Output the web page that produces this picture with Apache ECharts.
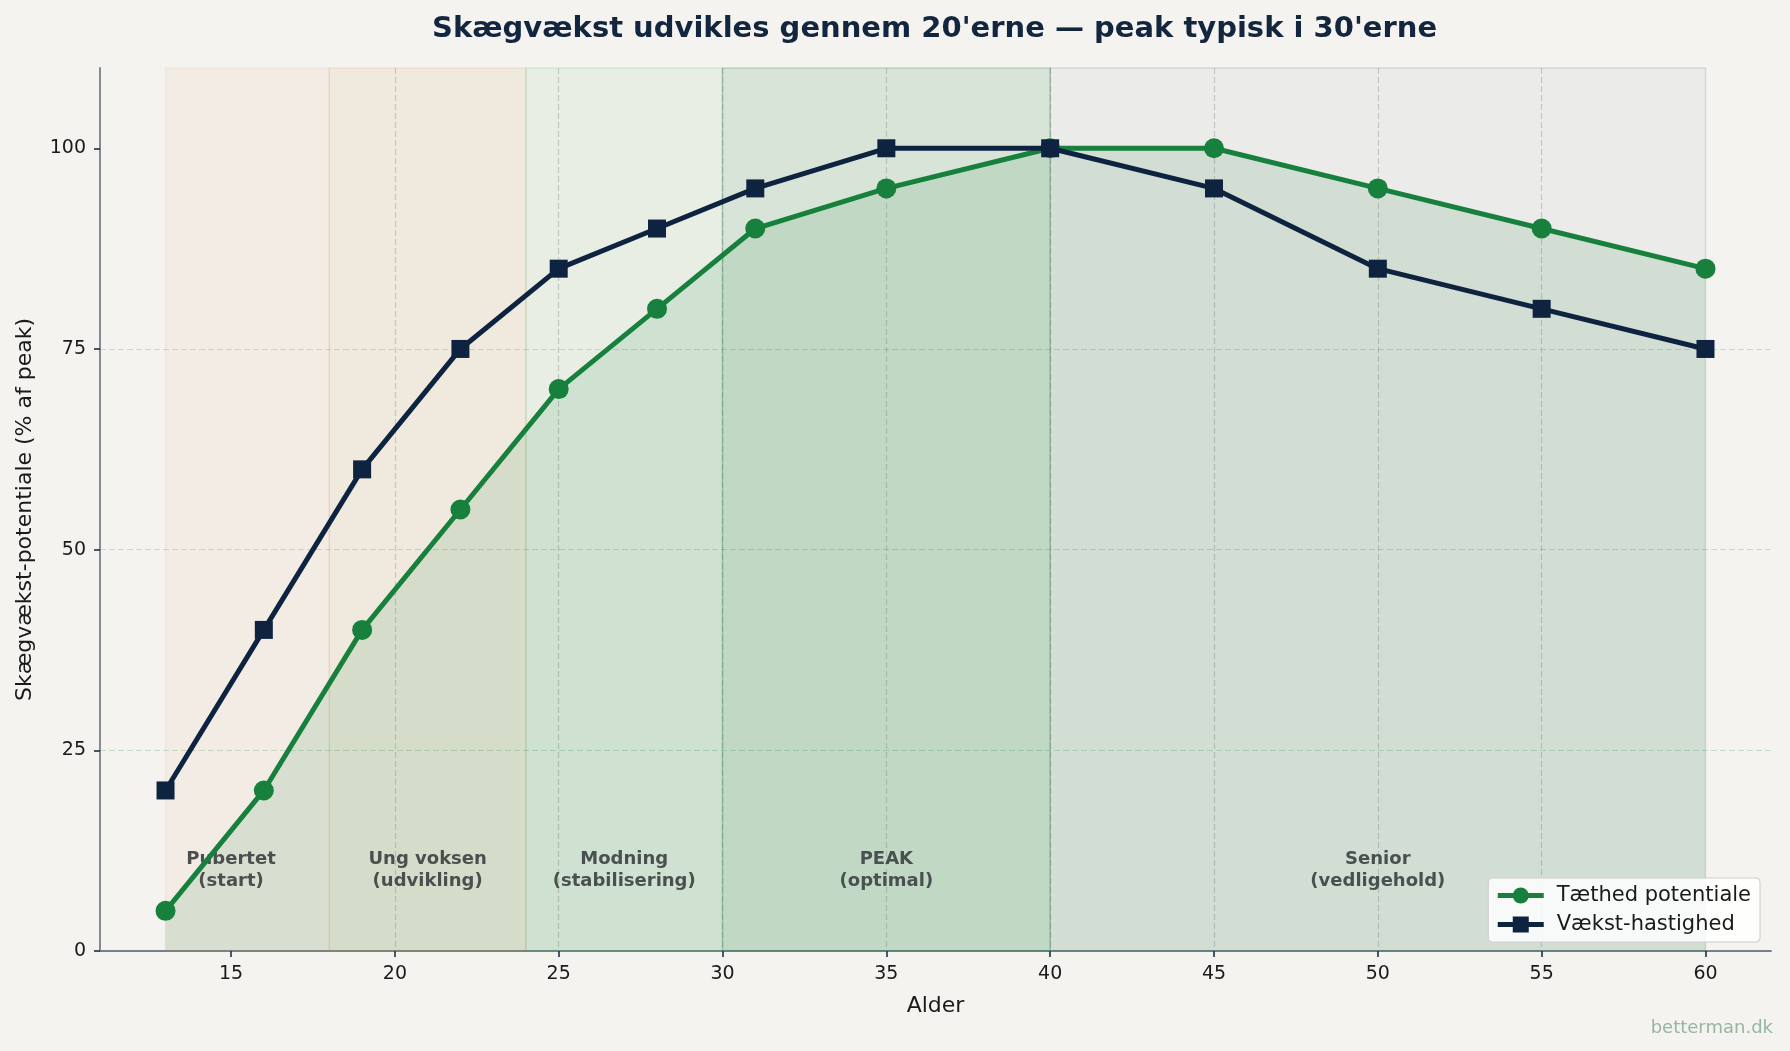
<!DOCTYPE html>
<html>
<head>
<meta charset="utf-8">
<script src="https://cdn.jsdelivr.net/npm/echarts@6/dist/echarts.min.js"></script>
<style>
html,body{margin:0;padding:0;background:#F4F3EF;}
#chart{width:1790px;height:1051px;}
</style>
</head>
<body>
<div id="chart"></div>
<script>
// ---- data ----
const ages = [13, 16, 19, 22, 25, 28, 31, 35, 40, 45, 50, 55, 60];
const densityPotential = [5, 20, 40, 55, 70, 80, 90, 95, 100, 100, 95, 90, 85];
const growthRate = [20, 40, 60, 75, 85, 90, 95, 100, 100, 95, 85, 80, 75];
const xTickValues = [15, 20, 25, 30, 35, 40, 45, 50, 55, 60];
const yTickValues = [0, 25, 50, 75, 100];
const phaseNames = ['Pubertet\n(start)', 'Ung voksen\n(udvikling)', 'Modning\n(stabilisering)', 'PEAK\n(optimal)', 'Senior\n(vedligehold)'];
const phaseStart = [13, 18, 24, 30, 40];
const phaseEnd = [18, 24, 30, 40, 60];
const phaseLabelAge = [15, 21, 27, 35, 50];
const phaseLabelLevel = 10;
const seriesNames = ['Tæthed potentiale', 'Vækst-hastighed'];
const titleText = "Skægvækst udvikles gennem 20'erne — peak typisk i 30'erne";

// ---- styles ----
const FONT = 'DejaVu Sans';
const GREEN = '#17803D';
const NAVY = '#0D2340';
const bandFill = ['rgba(230,150,110,0.08)', 'rgba(210,150,70,0.10)', 'rgba(100,180,120,0.085)', 'rgba(60,150,90,0.15)', 'rgba(140,140,170,0.08)'];
const bandEdge = ['rgba(230,150,110,0.10)', 'rgba(210,150,70,0.16)', 'rgba(100,180,120,0.18)', 'rgba(60,130,90,0.25)', 'rgba(60,130,90,0.18)'];

const bands = phaseStart.map((s, i) => [
  { xAxis: s, itemStyle: { color: bandFill[i], borderColor: bandEdge[i], borderWidth: 1.5 } },
  { xAxis: phaseEnd[i] }
]);
const phaseLabels = phaseNames.map((n, i) => ({ name: n, value: [phaseLabelAge[i], phaseLabelLevel] }));
const densityPoints = ages.map((a, i) => [a, densityPotential[i]]);
const growthPoints = ages.map((a, i) => [a, growthRate[i]]);

const chart = echarts.init(document.getElementById('chart'), null, { renderer: 'canvas' });
chart.setOption({
  backgroundColor: '#F4F3EF',
  animation: false,
  textStyle: { fontFamily: FONT },
  title: {
    text: titleText,
    left: 427,
    top: 10,
    textStyle: { fontFamily: FONT, fontSize: 29, fontWeight: 'bold', color: '#13263F' }
  },
  grid: { left: 100, right: 19, top: 68, bottom: 100, containLabel: false },
  legend: {
    data: seriesNames,
    orient: 'vertical',
    right: 30,
    bottom: 109,
    itemWidth: 46,
    itemHeight: 20,
    itemGap: 8,
    padding: [7, 9, 7, 7],
    backgroundColor: 'rgba(255,255,255,0.85)',
    borderColor: '#cccccc',
    borderWidth: 1,
    borderRadius: 4,
    lineStyle: { width: 5 },
    textStyle: { fontFamily: FONT, fontSize: 21, color: '#1a1a1a', padding: [0, 0, 0, 8] }
  },
  xAxis: {
    type: 'value',
    min: 11,
    max: 62,
    name: 'Alder',
    nameLocation: 'middle',
    nameGap: 44,
    nameTextStyle: { fontFamily: FONT, fontSize: 22, color: '#1a1a1a' },
    axisLine: { show: true, lineStyle: { color: '#778089', width: 1.8 } },
    axisTick: { show: true, length: 6, customValues: xTickValues, lineStyle: { color: NAVY, width: 1.5 } },
    axisLabel: { customValues: xTickValues, margin: 14, fontFamily: FONT, fontSize: 19, color: '#1a1a1a' },
    splitLine: { show: true, showMinLine: false, showMaxLine: false, lineStyle: { color: 'rgba(0,0,0,0.17)', type: [6, 3], width: 1.2 } }
  },
  yAxis: {
    type: 'value',
    min: 0,
    max: 110,
    name: 'Skægvækst-potentiale (% af peak)',
    nameLocation: 'middle',
    nameGap: 64,
    nameTextStyle: { fontFamily: FONT, fontSize: 22, color: '#1a1a1a' },
    axisLine: { show: true, lineStyle: { color: '#778089', width: 1.8 } },
    axisTick: { show: true, length: 6, customValues: yTickValues, lineStyle: { color: NAVY, width: 1.5 } },
    axisLabel: { customValues: yTickValues, margin: 14, fontFamily: FONT, fontSize: 19, color: '#1a1a1a' },
    splitLine: { show: true, showMinLine: false, showMaxLine: false, lineStyle: { color: 'rgba(26,127,60,0.22)', type: [6, 3], width: 1.2 } }
  },
  graphic: [{
    type: 'text',
    right: 17,
    bottom: 14,
    style: { text: 'betterman.dk', fontFamily: FONT, fontSize: 18, fill: '#98B5A0' }
  }],
  series: [
    {
      name: 'bands',
      type: 'line',
      z: 1,
      silent: true,
      data: [],
      markArea: { silent: true, data: bands }
    },
    {
      name: 'densityFill',
      type: 'line',
      z: 2,
      silent: true,
      data: densityPoints,
      symbol: 'none',
      lineStyle: { width: 0, opacity: 0 },
      areaStyle: { color: 'rgba(26,127,60,0.17)', origin: 'start' }
    },
    {
      name: 'phases',
      type: 'scatter',
      z: 3,
      silent: true,
      symbolSize: 1,
      itemStyle: { color: 'rgba(0,0,0,0)', opacity: 1 },
      data: phaseLabels,
      label: {
        show: true,
        position: 'inside',
        formatter: '{b}',
        fontFamily: FONT,
        fontSize: 18,
        fontWeight: 'bold',
        lineHeight: 22,
        color: '#4A5050',
        opacity: 1,
        align: 'center'
      }
    },
    {
      name: seriesNames[0],
      type: 'line',
      z: 4,
      data: densityPoints,
      symbol: 'circle',
      symbolSize: 20,
      lineStyle: { color: GREEN, width: 5 },
      itemStyle: { color: GREEN }
    },
    {
      name: seriesNames[1],
      type: 'line',
      z: 5,
      data: growthPoints,
      symbol: 'rect',
      symbolSize: 18,
      lineStyle: { color: NAVY, width: 5 },
      itemStyle: { color: NAVY }
    }
  ]
});
</script>
</body>
</html>
